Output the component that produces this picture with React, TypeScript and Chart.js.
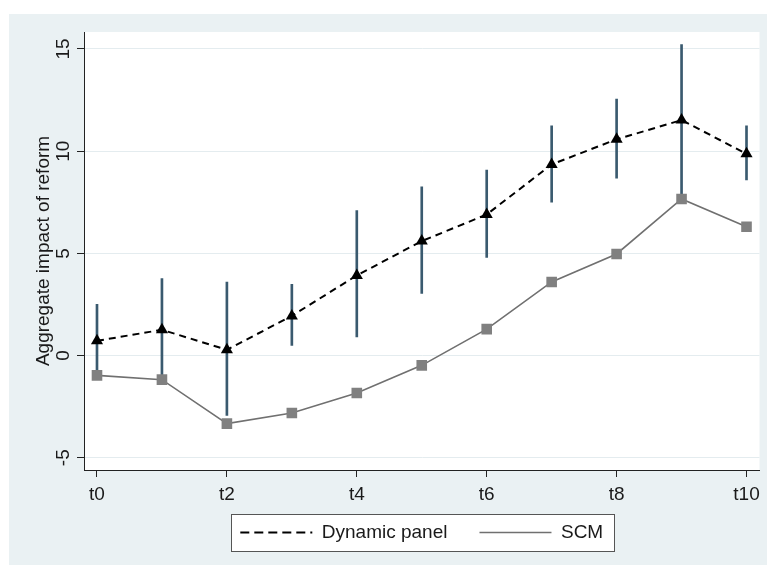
import React, { useEffect, useRef } from "react";
import { Chart, registerables } from "chart.js";

Chart.register(...registerables);

// ---- data ----
const periods = [0, 1, 2, 3, 4, 5, 6, 7, 8, 9, 10];
const xTickValues = [0, 2, 4, 6, 8, 10];
const xTickLabels = ["t0", "t2", "t4", "t6", "t8", "t10"];
const yTickValues = [-5, 0, 5, 10, 15];

const dynamicPanel = [0.72, 1.26, 0.28, 1.94, 3.92, 5.6, 6.9, 9.35, 10.58, 11.52, 9.87];
const scm = [-0.97, -1.18, -3.33, -2.81, -1.83, -0.48, 1.29, 3.6, 4.97, 7.66, 6.3];
const ciLow = [-0.9, -1.1, -2.93, 0.5, 0.91, 3.04, 4.8, 7.5, 8.68, 7.7, 8.59];
const ciHigh = [2.51, 3.77, 3.6, 3.48, 7.09, 8.26, 9.08, 11.24, 12.55, 15.21, 11.24];

const seriesNames = ["Dynamic panel", "SCM"];
const yTitle = "Aggregate impact of reform";

const FONT = "'Liberation Sans', Arial, Helvetica, sans-serif";
const TEXT = "#1a1a1a";
const AXIS = "#222222";

const legendLineStyles = [
  { color: "#000000", width: 2, dash: [9, 5] },
  { color: "#707070", width: 1.6, dash: [] as number[] },
];

const backgroundPlugin = {
  id: "stataBackground",
  afterLayout(chart: any) {
    const lg = chart.legend;
    const ca = chart.chartArea;
    if (lg) {
      const h = lg.height;
      lg.left = ca.left;
      lg.right = ca.right;
      lg.width = ca.right - ca.left;
      lg.top = 491;
      lg.bottom = 491 + h;
    }
  },
  beforeDraw(chart: any) {
    const { ctx, width, height, chartArea: ca } = chart;
    ctx.save();
    ctx.fillStyle = "#ffffff";
    ctx.fillRect(0, 0, width, height);
    ctx.fillStyle = "#eaf1f3";
    ctx.fillRect(9, 14, width - 9, height - 14);
    ctx.fillStyle = "#ffffff";
    ctx.fillRect(ca.left, ca.top, ca.right - ca.left, ca.bottom - ca.top);
    const lg = chart.legend;
    if (lg && lg.legendHitBoxes && lg.legendHitBoxes.length) {
      const hb = lg.legendHitBoxes;
      const first = hb[0];
      const last = hb[hb.length - 1];
      const cy = first.top + first.height / 2;
      const x0 = Math.round(first.left - 9) + 0.5;
      const x1 = Math.round(last.left + last.width + 11) + 0.5;
      const y0 = Math.round(cy - 18.5) + 0.5;
      const y1 = Math.round(cy + 18.5) + 0.5;
      ctx.fillStyle = "#ffffff";
      ctx.fillRect(x0, y0, x1 - x0, y1 - y0);
      ctx.strokeStyle = "#555555";
      ctx.lineWidth = 1;
      ctx.strokeRect(x0, y0, x1 - x0, y1 - y0);
    }
    ctx.restore();
  },
};

export default function App() {
  const ref = useRef<HTMLCanvasElement | null>(null);

  useEffect(() => {
    if (!ref.current) return;
    const defaultLabels = (Chart as any).defaults.plugins.legend.labels.generateLabels;
    const chart = new Chart(ref.current, {
      type: "line",
      data: {
        datasets: [
          {
            type: "line",
            label: seriesNames[0],
            data: periods.map((p, i) => ({ x: p, y: dynamicPanel[i] })),
            borderColor: "#000000",
            backgroundColor: "#000000",
            borderWidth: 2,
            borderDash: [7, 5],
            pointStyle: "triangle",
            pointRadius: 7,
            pointBorderWidth: 0,
            pointBackgroundColor: "#000000",
            tension: 0,
            order: 1,
          },
          {
            type: "line",
            label: seriesNames[1],
            data: periods.map((p, i) => ({ x: p, y: scm[i] })),
            borderColor: "#707070",
            backgroundColor: "#808080",
            borderWidth: 1.6,
            pointStyle: "rect",
            pointRadius: 7.5,
            pointBorderWidth: 0,
            pointBackgroundColor: "#808080",
            tension: 0,
            order: 2,
          },
          {
            type: "bar",
            label: "CI",
            data: periods.map((p, i) => ({ x: p, y: [ciLow[i], ciHigh[i]] })) as any,
            backgroundColor: "#3a5a6f",
            borderWidth: 0,
            barThickness: 2,
            grouped: false,
            order: 3,
          } as any,
        ],
      },
      options: {
        animation: false,
        responsive: false,
        devicePixelRatio: 1,
        layout: { padding: { top: 32, right: 5, left: 0, bottom: 0 } },
        plugins: {
          tooltip: { enabled: false },
          legend: {
            position: "bottom",
            labels: {
              usePointStyle: true,
              pointStyle: "line",
              pointStyleWidth: 72,
              padding: 32,
              color: TEXT,
              font: { size: 19, family: FONT },
              filter: (item: any) => item.datasetIndex !== 2,
              generateLabels: (c: any) => {
                const items = defaultLabels(c);
                items.forEach((it: any) => {
                  const s = legendLineStyles[it.datasetIndex];
                  if (s) {
                    it.strokeStyle = s.color;
                    it.fillStyle = s.color;
                    it.lineWidth = s.width;
                    it.lineDash = s.dash;
                    it.pointStyle = "line";
                  }
                });
                return items;
              },
            },
          },
        },
        scales: {
          x: {
            type: "linear",
            min: -0.2,
            max: 10.2,
            offset: false,
            afterBuildTicks: (scale: any) => {
              scale.ticks = xTickValues.map((v) => ({ value: v }));
            },
            afterFit: (scale: any) => {
              scale.height = 34;
            },
            grid: {
              offset: false,
              drawOnChartArea: false,
              drawTicks: true,
              tickLength: 7,
              tickColor: AXIS,
              tickWidth: 1,
            },
            border: { display: true, color: AXIS, width: 1 },
            ticks: {
              autoSkip: false,
              maxRotation: 0,
              minRotation: 0,
              padding: 6,
              color: TEXT,
              font: { size: 19, family: FONT },
              callback: (value: any) => {
                const idx = xTickValues.indexOf(Number(value));
                return idx >= 0 ? xTickLabels[idx] : "";
              },
            },
          },
          y: {
            type: "linear",
            min: -5.6,
            max: 15.83,
            afterBuildTicks: (scale: any) => {
              scale.ticks = yTickValues.map((v) => ({ value: v }));
            },
            afterFit: (scale: any) => {
              scale.width = 84;
            },
            grid: {
              drawOnChartArea: true,
              color: "#e4ecef",
              lineWidth: 1,
              drawTicks: true,
              tickLength: 7,
              tickColor: AXIS,
              tickWidth: 1,
            },
            border: { display: true, color: AXIS, width: 1 },
            title: {
              display: true,
              text: yTitle,
              color: TEXT,
              font: { size: 19, family: FONT },
              padding: { top: 32, bottom: 0 },
            },
            ticks: {
              minRotation: 90,
              maxRotation: 90,
              crossAlign: "center",
              padding: 3,
              color: TEXT,
              font: { size: 19, family: FONT },
              callback: (value: any) => String(value),
            },
          },
        },
      },
      plugins: [backgroundPlugin],
    } as any);
    return () => chart.destroy();
  }, []);

  return (
    <div style={{ position: "fixed", left: 0, top: 0, width: 767, height: 565 }}>
      <canvas ref={ref} width={767} height={565} style={{ display: "block", width: 767, height: 565 }} />
    </div>
  );
}
